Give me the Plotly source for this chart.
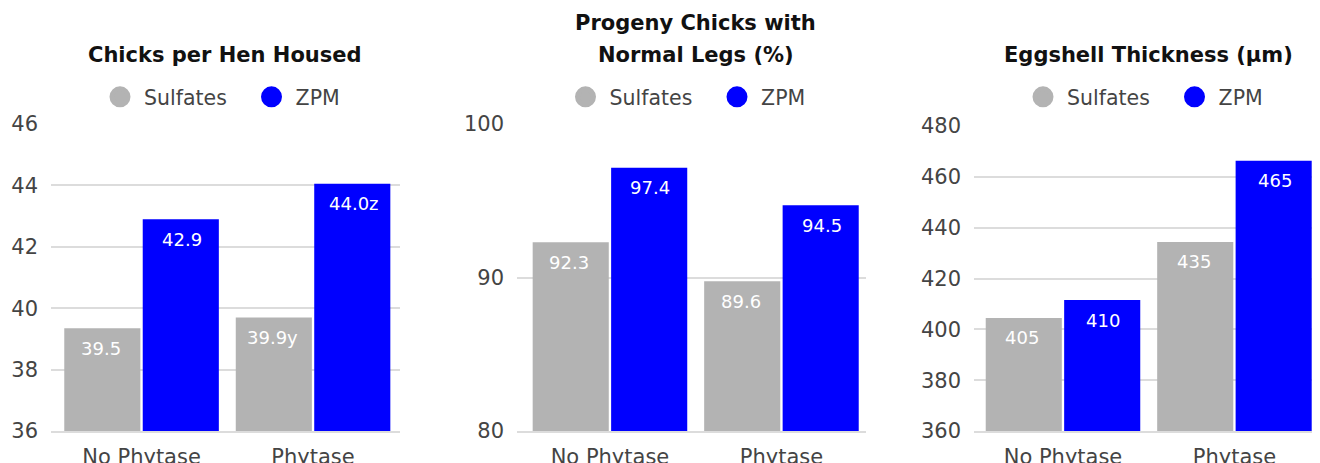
import plotly.graph_objects as go

# ---------------- data ----------------
categories = ["No Phytase", "Phytase"]
series_names = ["Sulfates", "ZPM"]

titles = [["Chicks per Hen Housed"], ["Progeny Chicks with", "Normal Legs (%)"], ["Eggshell Thickness (µm)"]]

chicks_sulfates = [39.35, 39.7]
chicks_zpm = [42.9, 44.05]
chicks_sulfates_labels = ["39.5", "39.9y"]
chicks_zpm_labels = ["42.9", "44.0z"]

legs_sulfates = [92.3, 89.75]
legs_zpm = [97.15, 94.7]
legs_sulfates_labels = ["92.3", "89.6"]
legs_zpm_labels = ["97.4", "94.5"]

shell_sulfates = [404.5, 434.4]
shell_zpm = [411.5, 466.3]
shell_sulfates_labels = ["405", "435"]
shell_zpm_labels = ["410", "465"]

y_ranges = [[36, 46], [80, 100], [360, 480]]
y_dticks = [2, 10, 20]

# ---------------- styles ----------------
OFF = 8                      # page body margin of the html page
W, H = 1320 - OFF, 463 - OFF
FONT = "DejaVu Sans"
GRAY = "#b3b3b3"
BLUE = "#0000ff"
GRID = "#dcdcdc"
TICK_COLOR = "#444444"
colors = [GRAY, BLUE]
SP = "\u2009"

# pixel geometry of each panel in window pixels (left, right, top, bottom) and x-range
panels = [
    dict(l=51, r=400, t=124, b=431, xr=[-0.528, 1.507], tx=225, lx=251.5),
    dict(l=517, r=866, t=124, b=431, xr=[-0.542, 1.493], tx=695.5, lx=717),
    dict(l=974, r=1320, t=126, b=431, xr=[-0.519, 1.499], tx=1148, lx=1174.5),
]
title_rows = [[55], [23, 55], [55]]

panel_series = [
    ([chicks_sulfates, chicks_zpm], [chicks_sulfates_labels, chicks_zpm_labels]),
    ([legs_sulfates, legs_zpm], [legs_sulfates_labels, legs_zpm_labels]),
    ([shell_sulfates, shell_zpm], [shell_sulfates_labels, shell_zpm_labels]),
]


def px_x(x):
    return (x - OFF) / W


def px_y(y):
    return (H - (y - OFF)) / H


fig = go.Figure()
annotations = []
layout = dict(
    width=W, height=H,
    margin=dict(l=0, r=0, t=0, b=0, autoexpand=False),
    paper_bgcolor="white", plot_bgcolor="white",
    barmode="group", bargap=0.085, bargroupgap=0.03,
    font=dict(family=FONT, color=TICK_COLOR),
)

for i, (p, (vals, labs)) in enumerate(zip(panels, panel_series)):
    n = "" if i == 0 else str(i + 1)
    xa, ya = "x" + n, "y" + n
    leg = "legend" + n
    for s, (name, v, lab, c) in enumerate(zip(series_names, vals, labs, colors)):
        fig.add_trace(go.Bar(
            x=categories, y=v, name=name, marker=dict(color=c, line=dict(width=0)),
            xaxis=xa, yaxis=ya, showlegend=False, hoverinfo="skip",
        ))
        # legend entry with round marker
        fig.add_trace(go.Scatter(
            x=[None], y=[None], mode="markers", name=SP + name,
            marker=dict(size=16, color=c, symbol="circle", line=dict(width=5, color=c)),
            xaxis=xa, yaxis=ya, legend=leg, showlegend=True,
        ))
        for cat, val, txt in zip(categories, v, lab):
            annotations.append(dict(
                xref=xa, yref=ya, x=cat, y=val, text=txt, showarrow=False,
                xshift=-40.5 if s == 0 else 40.5, yshift=-20, yanchor="middle",
                font=dict(family=FONT, size=18, color="white"),
            ))
    layout["xaxis" + n] = dict(
        domain=[px_x(p["l"]), min(1.0, px_x(p["r"]))], anchor=ya, type="category",
        range=p["xr"], showgrid=False, zeroline=False,
        showline=True, linecolor=GRID, linewidth=2, ticks="",
        tickfont=dict(family=FONT, size=21, color=TICK_COLOR),
        ticklabelstandoff=6, fixedrange=True,
    )
    layout["yaxis" + n] = dict(
        domain=[px_y(p["b"]), px_y(p["t"])], anchor=xa,
        range=y_ranges[i], dtick=y_dticks[i], showgrid=True, gridcolor=GRID, gridwidth=2,
        zeroline=False, showline=False, ticks="",
        tickfont=dict(family=FONT, size=21, color=TICK_COLOR),
        ticklabelstandoff=12, fixedrange=True,
    )
    layout[leg] = dict(
        orientation="h", x=px_x(p["lx"]), xanchor="center",
        y=px_y(97), yanchor="middle", bgcolor="rgba(0,0,0,0)",
        font=dict(family=FONT, size=20.5, color=TICK_COLOR),
        entrywidth=106.5,
        itemclick=False, itemdoubleclick=False,
    )
    for line, ty in zip(titles[i], title_rows[i]):
        annotations.append(dict(
            xref="paper", yref="paper", x=px_x(p["tx"]), y=px_y(ty),
            xanchor="center", yanchor="middle", showarrow=False,
            text="<b>" + line + "</b>",
            font=dict(family=FONT, size=21, color="#111111"),
        ))

layout["annotations"] = annotations
fig.update_layout(**layout)
fig.write_html("out.html")
